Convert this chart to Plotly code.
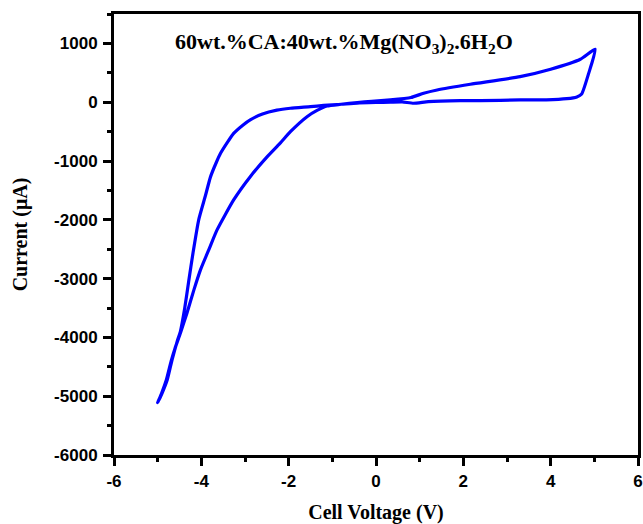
import plotly.graph_objects as go

# Cyclic voltammogram of the 60wt.% CA : 40wt.% Mg(NO3)2.6H2O electrolyte
# Sweep from -5 V up to +5 V
voltage_forward = [-5.00, -4.90, -4.78, -4.67, -4.55, -4.48, -4.38, -4.29, -4.19,
                   -4.06, -3.91, -3.79, -3.66, -3.56, -3.40, -3.26, -3.05, -2.88,
                   -2.60, -2.27, -1.96, -1.50, -1.20, -0.80, -0.43, 0.00, 0.33,
                   0.60, 0.86, 1.20, 1.93, 2.39, 3.30, 3.90, 4.37, 4.60, 4.71,
                   4.87, 5.02]
current_forward = [-5110, -4950, -4720, -4380, -4060, -3900, -3500, -3050, -2560,
                   -2000, -1600, -1270, -1030, -870, -680, -530, -390, -300,
                   -200, -135, -103, -76, -55, -35, -15, -5, 0,
                   5, -18, 10, 26, 26, 38, 40, 60, 90, 140,
                   490, 900]

# Return sweep from +5 V back down to -5 V
voltage_reverse = [5.02, 4.68, 4.00, 3.30, 2.16, 1.40, 1.09, 0.80, 0.33, -0.10,
                   -0.43, -0.80, -1.12, -1.35, -1.58, -1.96, -2.20, -2.49, -2.88,
                   -3.26, -3.64, -3.83, -4.02, -4.17, -4.33, -4.48, -4.60, -4.69,
                   -4.80, -4.91, -5.00]
current_reverse = [900, 730, 560, 434, 305, 208, 152, 80, 40, 15,
                   -5, -35, -64, -140, -246, -501, -700, -926, -1266,
                   -1662, -2172, -2512, -2852, -3192, -3588, -3928, -4180, -4400,
                   -4720, -4950, -5110]

# Axis tick positions and their printed labels (hyphen-minus as printed)
x_tick_values = [-6, -4, -2, 0, 2, 4, 6]
x_tick_labels = ["-6", "-4", "-2", "0", "2", "4", "6"]
y_tick_values = [-6000, -5000, -4000, -3000, -2000, -1000, 0, 1000]
y_tick_labels = ["-6000", "-5000", "-4000", "-3000", "-2000", "-1000", "0", "1000"]

voltage = voltage_forward + voltage_reverse[1:]
current = current_forward + current_reverse[1:]

tick_font = dict(family="Liberation Sans, Arial, sans-serif", size=17,
                 color="black", weight="bold")
title_font = dict(family="Liberation Serif, Times New Roman, serif", size=20,
                  color="black", weight="bold")

fig = go.Figure()
fig.add_trace(go.Scatter(
    x=voltage, y=current, mode="lines",
    line=dict(color="#0000FF", width=3.2, shape="spline", smoothing=0.5),
    showlegend=False,
))

axis_common = dict(
    showline=True, linecolor="black", linewidth=3, mirror=True,
    showgrid=False, zeroline=False, automargin=False,
    ticks="outside", ticklen=8, tickwidth=3, tickcolor="black",
    tickfont=tick_font, tickmode="array",
)

fig.update_xaxes(
    range=[-6, 6], tickvals=x_tick_values, ticktext=x_tick_labels,
    ticklabelstandoff=1,
    minor=dict(ticks="outside", ticklen=4, tickwidth=3, dtick=1, tick0=0,
               tickcolor="black"),
    title=dict(text="Cell Voltage (V)", font=title_font, standoff=20),
    **axis_common,
)
fig.update_yaxes(
    range=[-6000, 1500], tickvals=y_tick_values, ticktext=y_tick_labels,
    ticklabelstandoff=2,
    minor=dict(ticks="outside", ticklen=4, tickwidth=3, dtick=500, tick0=0,
               tickcolor="black"),
    title=dict(text="Current (μA)", font=title_font, standoff=22),
    **axis_common,
)

fig.add_annotation(
    text="60wt.%CA:40wt.%Mg(NO<sub>3</sub>)<sub>2</sub>.6H<sub>2</sub>O",
    xref="paper", yref="paper", x=0.113, y=0.934,
    xanchor="left", yanchor="middle", showarrow=False,
    font=dict(family="Liberation Serif, Times New Roman, serif", size=22,
              color="black", weight="bold"),
)

fig.update_layout(
    width=643, height=524,
    margin=dict(l=114, r=5, t=14, b=69),
    paper_bgcolor="white", plot_bgcolor="white",
)

fig.write_html("out.html")
